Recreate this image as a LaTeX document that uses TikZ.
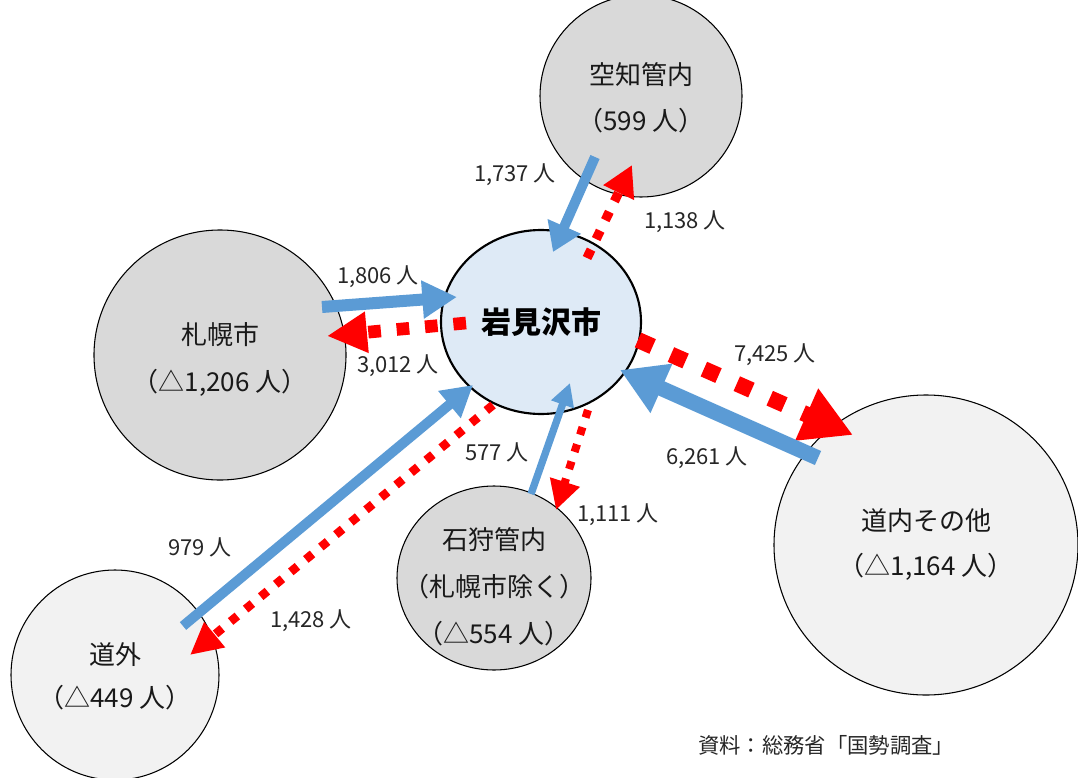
\documentclass[tikz,border=0pt]{standalone}
\usepackage{fontspec}
\setmainfont{Noto Sans CJK JP}
\usetikzlibrary{arrows.meta,shapes.geometric}
\definecolor{bluearr}{HTML}{5B9BD5}
\definecolor{grayfill}{HTML}{D9D9D9}
\definecolor{lightfill}{HTML}{F2F2F2}
\definecolor{bluefill}{HTML}{DEEAF6}
\tikzset{
  bub/.style={ellipse, draw=black, line width=0.8pt, inner sep=0pt},
  lbl/.style={font=\fontsize{19.5}{22}\selectfont, text=black!90},
  num/.style={font=\fontsize{16.5}{19}\selectfont, text=black!85},
  bluearrow/.style={draw=bluearr, line width=#1, -{Triangle[fill=bluearr]}},
  redarrow/.style={draw=red, line width=#1, dash pattern=on #1 off 1.25*#1, -{Triangle[fill=red]}},
}
\begin{document}
\begin{tikzpicture}[x=0.75pt,y=-0.75pt]
\useasboundingbox (0,0) rectangle (1078,778);
% bubbles
\node[bub, fill=grayfill, minimum width=151.5pt, minimum height=151.5pt] (sorachi) at (641,96) {};
\node[bub, fill=grayfill, minimum width=189pt, minimum height=187.5pt] (sapporo) at (220,355) {};
\node[bub, fill=lightfill, minimum width=228pt, minimum height=225pt] (other) at (926,545) {};
\node[bub, fill=grayfill, minimum width=145.5pt, minimum height=138pt] (ishikari) at (494,578) {};
\node[bub, fill=lightfill, minimum width=156pt, minimum height=157.5pt] (dougai) at (115,675) {};
\node[bub, fill=bluefill, line width=1.6pt, minimum width=150pt, minimum height=138pt] (iwa) at (541,322) {};
% arrow end points
\coordinate (a1s) at (595,157); \coordinate (a1e) at (553,252);
\coordinate (a2s) at (587,258); \coordinate (a2e) at (632,165);
\coordinate (a3s) at (322,307); \coordinate (a3e) at (457,297);
\coordinate (a4s) at (466,323); \coordinate (a4e) at (327,336);
\coordinate (a5s) at (638,340); \coordinate (a5e) at (853,435);
\coordinate (a6s) at (818,458); \coordinate (a6e) at (620,370);
\coordinate (a7s) at (183,626); \coordinate (a7e) at (473,385);
\coordinate (a8s) at (493,405); \coordinate (a8e) at (190,655);
\coordinate (a9s) at (531,494); \coordinate (a9e) at (570,383);
\coordinate (a10s) at (588,410); \coordinate (a10e) at (556,510);
% arrows
\draw[bluearrow=7.5pt, -{Triangle[fill=bluearr,length=21pt,width=26pt]}] (a1s) -- (a1e);
\draw[redarrow=7pt, -{Triangle[fill=red,length=23pt,width=24pt]}] (a2s) -- (a2e);
\draw[bluearrow=9pt, -{Triangle[fill=bluearr,length=26pt,width=27pt]}] (a3s) -- (a3e);
\draw[redarrow=9.5pt, -{Triangle[fill=red,length=30pt,width=29pt]}] (a4s) -- (a4e);
\draw[redarrow=12pt, -{Triangle[fill=red,length=38pt,width=40pt]}] (a5s) -- (a5e);
\draw[bluearrow=11.5pt, -{Triangle[fill=bluearr,length=34pt,width=38pt]}] (a6s) -- (a6e);
\draw[bluearrow=7.5pt, -{Triangle[fill=bluearr,length=23pt,width=25pt]}] (a7s) -- (a7e);
\draw[redarrow=6.5pt, -{Triangle[fill=red,length=24pt,width=23pt]}] (a8s) -- (a8e);
\draw[bluearrow=5.5pt, -{Triangle[fill=bluearr,length=17pt,width=17pt]}] (a9s) -- (a9e);
\draw[redarrow=6pt, -{Triangle[fill=red,length=22pt,width=22pt]}] (a10s) -- (a10e);
% bubble labels
\node[lbl] (t1a) at (641,75) {空知管内};
\node[lbl] (t1b) at (641,121) {（599 人）};
\node[font=\fontsize{22.5}{26}\selectfont\bfseries] (t2) at (541,322) {岩見沢市};
\node[lbl] (t3a) at (220,335) {札幌市};
\node[lbl] (t3b) at (220,383) {（△1,206 人）};
\node[lbl] (t4a) at (926,521) {道内その他};
\node[lbl] (t4b) at (926,567) {（△1,164 人）};
\node[lbl] (t5a) at (494,540) {石狩管内};
\node[lbl] (t5b) at (494,587) {（札幌市除く）};
\node[lbl] (t5c) at (494,634) {（△554 人）};
\node[lbl] (t6a) at (115,655) {道外};
\node[lbl] (t6b) at (115,698) {（△449 人）};
% number labels
\node[num] (n1) at (515,175) {1,737 人};
\node[num] (n2) at (685,222) {1,138 人};
\node[num] (n3) at (378,277) {1,806 人};
\node[num] (n4) at (398,366) {3,012 人};
\node[num] (n5) at (775,355) {7,425 人};
\node[num] (n6) at (707,458) {6,261 人};
\node[num] (n7) at (497,452) {577 人};
\node[num] (n8) at (618,515) {1,111 人};
\node[num] (n9) at (200,547) {979 人};
\node[num] (n10) at (311,621) {1,428 人};
\node[num, font=\fontsize{16}{19}\selectfont] (src) at (826,745) {資料：総務省「国勢調査」};
\end{tikzpicture}
\end{document}
